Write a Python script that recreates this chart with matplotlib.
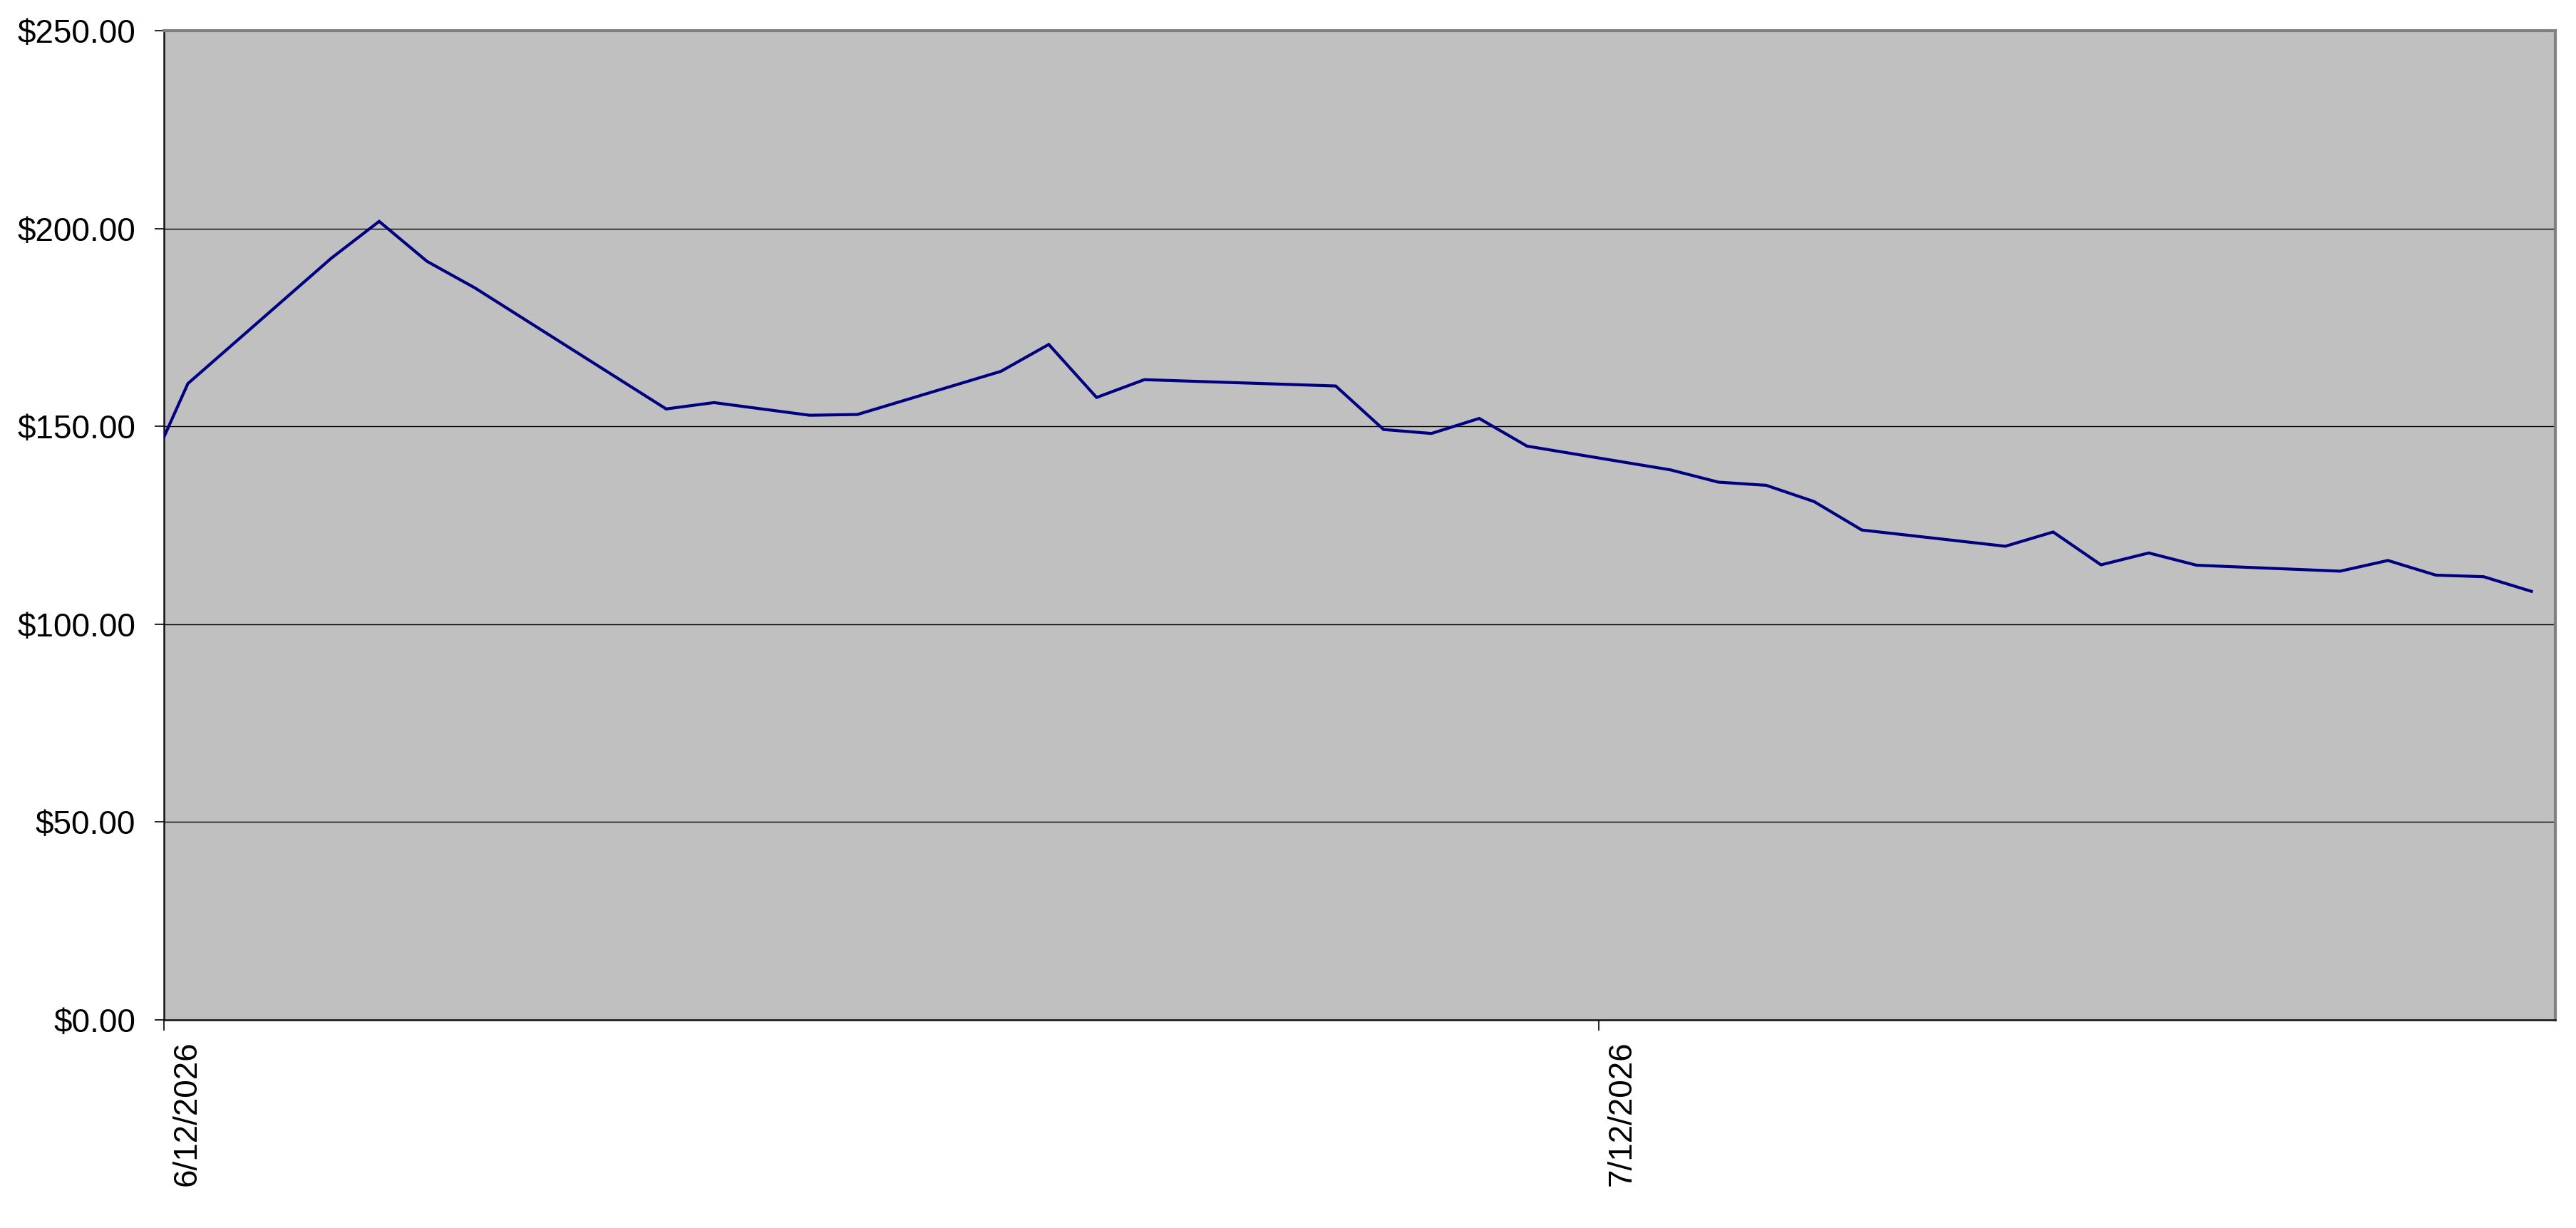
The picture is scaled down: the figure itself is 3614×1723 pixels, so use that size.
import matplotlib
matplotlib.use("Agg")
import matplotlib.pyplot as plt
import matplotlib.transforms as mtransforms
import pandas as pd

# closing prices (one point per trading day)
dates = ["2026-06-11", "2026-06-12", "2026-06-15", "2026-06-16", "2026-06-17",
         "2026-06-18", "2026-06-22", "2026-06-23", "2026-06-25", "2026-06-26",
         "2026-06-29", "2026-06-30", "2026-07-01", "2026-07-02", "2026-07-06",
         "2026-07-07", "2026-07-08", "2026-07-09", "2026-07-10", "2026-07-13",
         "2026-07-14", "2026-07-15", "2026-07-16", "2026-07-17", "2026-07-20",
         "2026-07-21", "2026-07-22", "2026-07-23", "2026-07-24", "2026-07-27",
         "2026-07-28", "2026-07-29", "2026-07-30", "2026-07-31"]
prices = [133.8, 160.8, 192.5, 201.8, 191.7,
          185.0, 154.4, 156.0, 152.8, 153.0,
          163.9, 170.7, 157.3, 161.8, 160.2,
          149.2, 148.2, 152.0, 145.0, 139.0,
          135.9, 135.1, 131.0, 123.8, 119.7,
          123.3, 115.0, 118.0, 114.9, 113.4,
          116.1, 112.4, 112.0, 108.3]

tick_dates = ["2026-06-12", "2026-07-12"]
tick_labels = ["6/12/2026", "7/12/2026"]
y_ticks = [0, 50, 100, 150, 200, 250]
y_labels = ["$0.00", "$50.00", "$100.00", "$150.00", "$200.00", "$250.00"]

plt.rcParams['font.family'] = ['Liberation Sans', 'DejaVu Sans']

W, H = 3614, 1723
fig = plt.figure(figsize=(W / 100, H / 100), dpi=100)
ax = fig.add_axes([230 / W, (H - 1431) / H, (3585 - 230) / W, (1431 - 43) / H])
ax.set_facecolor('#C0C0C0')

# points sit in the middle of each day, like Excel's date axis
x = pd.to_datetime(dates) + pd.Timedelta(hours=12)
ax.plot(x, prices, color='#000080', linewidth=3.0, solid_joinstyle='miter', zorder=3)

ax.set_xlim(pd.Timestamp("2026-06-12"), pd.Timestamp("2026-08-01"))
ax.set_ylim(0, 250)

ax.set_yticks(y_ticks)
ax.set_yticklabels(y_labels, fontsize=33)
ax.yaxis.grid(True, color='black', linewidth=1.0)
ax.set_axisbelow(True)

ax.set_xticks(pd.to_datetime(tick_dates))
ax.set_xticklabels(tick_labels, fontsize=33, rotation=90, va='top', ha='center')

ax.tick_params(axis='y', direction='out', length=9.5, width=1.2, pad=19, colors='black')
ax.tick_params(axis='x', direction='out', length=11, width=1.2, pad=10, colors='black')

# Excel puts the rotated date labels just right of the tick
shift = mtransforms.ScaledTranslation(33 / 100, 0, fig.dpi_scale_trans)
for lab in ax.get_xticklabels():
    lab.set_transform(lab.get_transform() + shift)

for side in ['left', 'bottom']:
    ax.spines[side].set_color('#101010')
    ax.spines[side].set_linewidth(1.8)
for side in ['top', 'right']:
    ax.spines[side].set_color('#808080')
    ax.spines[side].set_linewidth(3.0)

fig.savefig("out.png", dpi=100, facecolor='white')
